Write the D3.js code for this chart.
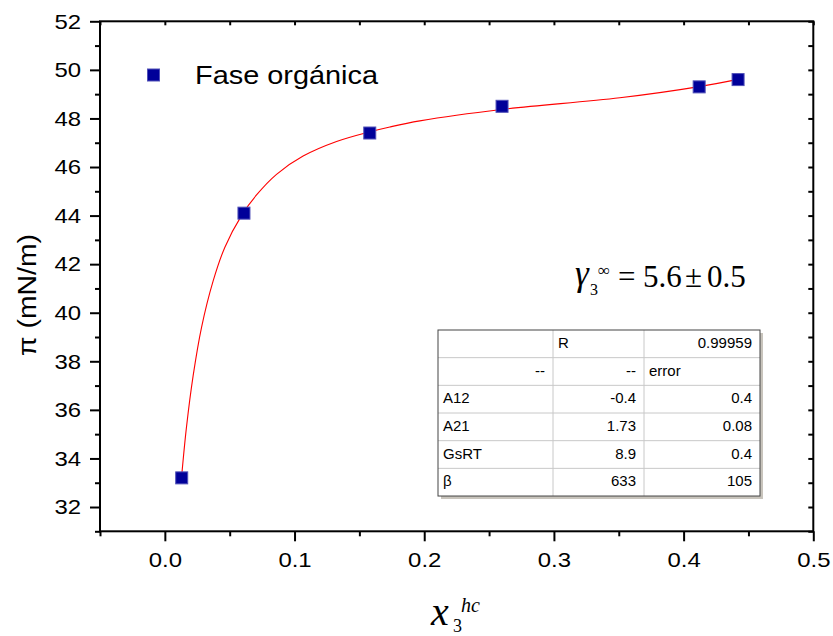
<!DOCTYPE html>
<html>
<head>
<meta charset="utf-8">
<script src="https://cdn.jsdelivr.net/npm/d3@7"></script>
<style>
  html, body { margin: 0; padding: 0; background: #fff; }
  svg { display: block; }
  text { font-family: "Liberation Sans", Arial, sans-serif; fill: #000; }
  .serif { font-family: "Liberation Serif", "Times New Roman", serif; }
</style>
</head>
<body>
<svg id="chart" width="833" height="636"></svg>
<script>
// ---- data ----
const seriesName = "Fase orgánica";
const xValues = [0.013, 0.061, 0.158, 0.260, 0.412, 0.442];
const yValues = [33.2, 44.1, 47.4, 48.5, 49.3, 49.6];
// fitted curve
const fitX = [0.0129, 0.0167, 0.0218, 0.0283, 0.0372, 0.0463, 0.0591, 0.0707, 0.0861, 0.1066, 0.1324, 0.1581, 0.1735, 0.1966, 0.2596, 0.3508, 0.412, 0.4428];
const fitY = [33.24, 35.3, 37.4, 39.4, 41.3, 42.7, 44.0, 44.85, 45.7, 46.45, 47.05, 47.45, 47.65, 47.9, 48.37, 48.85, 49.31, 49.62];
const xTicks = [0.0, 0.1, 0.2, 0.3, 0.4, 0.5];
const xTickLabels = ["0.0", "0.1", "0.2", "0.3", "0.4", "0.5"];
const xMinorTicks = [-0.05, 0.05, 0.15, 0.25, 0.35, 0.45];
const yTicks = [32, 34, 36, 38, 40, 42, 44, 46, 48, 50, 52];
const yMinorTicks = [31, 33, 35, 37, 39, 41, 43, 45, 47, 49, 51];
const tableRows = [
  ["", "R", "0.99959"],
  ["--", "--", "error"],
  ["A12", "-0.4", "0.4"],
  ["A21", "1.73", "0.08"],
  ["GsRT", "8.9", "0.4"],
  ["β", "633", "105"]
];

// ---- layout ----
const svg = d3.select("#chart");
const L = 100, R = 813.3, T = 21.3, B = 531.3;
const x = d3.scaleLinear().domain([-0.05, 0.5]).range([L, R]);
const y = d3.scaleLinear().domain([31, 52]).range([B, T]);

function stretch(sel, k) {
  sel.each(function () {
    const w = this.getComputedTextLength();
    if (w > 0) d3.select(this).attr("textLength", w * k).attr("lengthAdjust", "spacingAndGlyphs");
  });
}

// bottom axis
const gx = svg.append("g").attr("transform", `translate(0,${B})`)
  .call(d3.axisBottom(x).tickValues(xTicks).tickSize(10).tickPadding(11)
    .tickFormat((d, i) => xTickLabels[i]));
gx.append("g").call(d3.axisBottom(x).tickValues(xMinorTicks).tickSize(5).tickFormat(""));
// left axis
const gy = svg.append("g").attr("transform", `translate(${L},0)`)
  .call(d3.axisLeft(y).tickValues(yTicks).tickSize(10).tickPadding(9).tickFormat(d3.format("d")));
gy.append("g").call(d3.axisLeft(y).tickValues(yMinorTicks).tickSize(5).tickFormat(""));
// top axis (inward)
svg.append("g").attr("transform", `translate(0,${T})`)
  .call(d3.axisBottom(x).tickValues(xTicks.concat(xMinorTicks)).tickSize(4).tickFormat(""));
// right axis (inward)
svg.append("g").attr("transform", `translate(${R},0)`)
  .call(d3.axisLeft(y).tickValues(yTicks.concat(yMinorTicks)).tickSize(5).tickFormat(""));

svg.selectAll(".domain").remove();
svg.selectAll(".tick line").attr("stroke", "#000").attr("stroke-width", 2);
const tickTexts = svg.selectAll(".tick text").attr("font-size", 21)
  .attr("font-family", "Liberation Sans, Arial, sans-serif").attr("fill", "#000");
stretch(tickTexts, 1.14);

// frame
svg.append("rect").attr("x", L).attr("y", T).attr("width", R - L).attr("height", B - T)
  .attr("fill", "none").attr("stroke", "#000").attr("stroke-width", 2);

// fit curve
const fitData = fitX.map((v, i) => [v, fitY[i]]);
svg.append("path").datum(fitData)
  .attr("d", d3.line().x(d => x(d[0])).y(d => y(d[1])).curve(d3.curveCatmullRom.alpha(0.5)))
  .attr("fill", "none").attr("stroke", "#ff0000").attr("stroke-width", 1.1);

// points
const pts = xValues.map((v, i) => [v, yValues[i]]);
const ms = 12;
svg.append("g").selectAll("rect").data(pts).enter().append("rect")
  .attr("x", d => x(d[0]) - ms / 2).attr("y", d => y(d[1]) - ms / 2)
  .attr("width", ms).attr("height", ms)
  .attr("fill", "#000099").attr("stroke", "#5050b8").attr("stroke-width", 1);

// legend
svg.append("rect").attr("x", 153.5 - ms / 2).attr("y", 75 - ms / 2).attr("width", ms).attr("height", ms)
  .attr("fill", "#000099").attr("stroke", "#5050b8").attr("stroke-width", 1);
svg.append("text").attr("x", 195).attr("y", 84).attr("font-size", 26.5)
  .attr("textLength", 183).attr("lengthAdjust", "spacingAndGlyphs").text(seriesName);

// axis titles
svg.append("text").attr("transform", "translate(36,295) rotate(-90)")
  .attr("text-anchor", "middle").attr("font-size", 25)
  .attr("textLength", 122).attr("lengthAdjust", "spacingAndGlyphs").text("π (mN/m)");

svg.append("text").attr("class", "serif").attr("x", 431).attr("y", 625).attr("font-size", 40).attr("font-style", "italic").text("x");
svg.append("text").attr("class", "serif").attr("x", 453).attr("y", 632).attr("font-size", 18).text("3");
svg.append("text").attr("class", "serif").attr("x", 461).attr("y", 612).attr("font-size", 20).attr("font-style", "italic").text("hc");

// formula
const f = svg.append("g");
f.append("text").attr("class", "serif").attr("x", 575).attr("y", 285).attr("font-size", 35).attr("font-style", "italic").text("γ");
f.append("text").attr("class", "serif").attr("x", 590).attr("y", 295).attr("font-size", 16).text("3");
f.append("text").attr("class", "serif").attr("x", 598).attr("y", 276).attr("font-size", 17).text("∞");
f.append("text").attr("class", "serif").attr("x", 618).attr("y", 287).attr("font-size", 31).text("=");
f.append("text").attr("class", "serif").attr("x", 643).attr("y", 287).attr("font-size", 31).text("5.6");
f.append("text").attr("class", "serif").attr("x", 685).attr("y", 287).attr("font-size", 31).text("±");
f.append("text").attr("class", "serif").attr("x", 707).attr("y", 287).attr("font-size", 31).text("0.5");

// table
const tX = [438, 553, 644, 760];
const tTop = 330, rowH = 27.67;
const tBottom = tTop + rowH * tableRows.length;
const tg = svg.append("g");
tg.append("rect").attr("x", tX[0] + 3).attr("y", tTop + 3).attr("width", tX[3] - tX[0]).attr("height", tBottom - tTop)
  .attr("fill", "#c8c4bc");
tg.append("rect").attr("x", tX[0]).attr("y", tTop).attr("width", tX[3] - tX[0]).attr("height", tBottom - tTop)
  .attr("fill", "#fff");
for (let i = 1; i < tableRows.length; i++) {
  tg.append("line").attr("x1", tX[0]).attr("x2", tX[3]).attr("y1", tTop + i * rowH).attr("y2", tTop + i * rowH)
    .attr("stroke", "#c8c8c8").attr("stroke-width", 1);
}
[tX[1], tX[2]].forEach(cx => tg.append("line").attr("x1", cx).attr("x2", cx).attr("y1", tTop).attr("y2", tBottom)
  .attr("stroke", "#c8c8c8").attr("stroke-width", 1));
tg.append("rect").attr("x", tX[0]).attr("y", tTop).attr("width", tX[3] - tX[0]).attr("height", tBottom - tTop)
  .attr("fill", "none").attr("stroke", "#444").attr("stroke-width", 1);
const leftAlign = (r, c) => (c === 0 && r !== 1) || (r === 0 && c === 1) || (r === 1 && c === 2);
tableRows.forEach((row, r) => {
  row.forEach((txt, c) => {
    if (!txt) return;
    const la = leftAlign(r, c);
    tg.append("text")
      .attr("x", la ? tX[c] + 5 : tX[c + 1] - 8)
      .attr("y", tTop + r * rowH + 18)
      .attr("text-anchor", la ? "start" : "end")
      .attr("font-size", 15).text(txt);
  });
});
</script>
</body>
</html>
